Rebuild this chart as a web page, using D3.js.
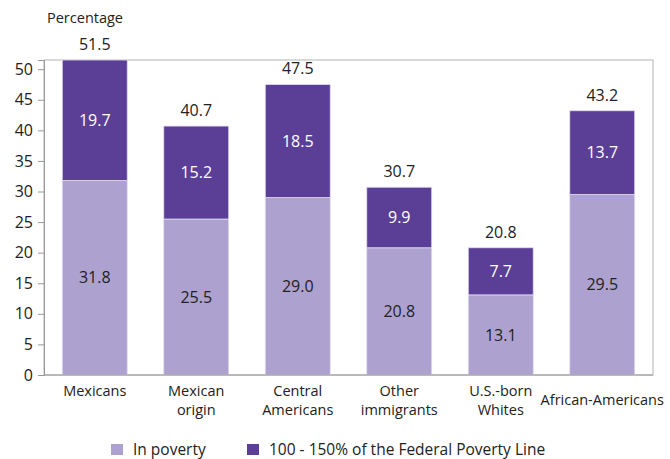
<!DOCTYPE html>
<html>
<head>
<meta charset="utf-8">
<script src="https://cdn.jsdelivr.net/npm/d3@7"></script>
<style>
  body { margin: 0; background: #fff; }
  svg { display: block; font-family: "Open Sans", sans-serif; }
</style>
</head>
<body>
<svg width="670" height="459"></svg>
<script>
// categories (lines of each label)
var categories = ["Mexicans", "Mexican origin", "Central Americans", "Other immigrants", "U.S.-born Whites", "African-Americans"]
var labelLines = [["Mexicans"], ["Mexican", "origin"], ["Central", "Americans"], ["Other", "immigrants"], ["U.S.-born", "Whites"], ["African-Americans"]]
var inPoverty = [31.8, 25.5, 29.0, 20.8, 13.1, 29.5]
var nearPoverty = [19.7, 15.2, 18.5, 9.9, 7.7, 13.7]
var totals = [51.5, 40.7, 47.5, 30.7, 20.8, 43.2]
var yTicks = [0, 5, 10, 15, 20, 25, 30, 35, 40, 45, 50]
var seriesNames = ["In poverty", "100 - 150% of the Federal Poverty Line"]
var colors = ["#ada1cf", "#5b3f97"]

var svg = d3.select("svg"),
    margin = {top: 60, right: 17, bottom: 84, left: 44},
    width = +svg.attr("width") - margin.left - margin.right,
    height = +svg.attr("height") - margin.top - margin.bottom

var g = svg.append("g").attr("transform", "translate(" + margin.left + "," + margin.top + ")")

var x = d3.scaleBand().domain(categories).range([0, width]).paddingInner(0.36).paddingOuter(0.18)
var y = d3.scaleLinear().domain([0, 51.5]).range([height, 0])

// plot frame
g.append("rect")
    .attr("width", width).attr("height", height)
    .attr("fill", "none").attr("stroke", "#b3b3b3")

// stacked data
var rows = categories.map(function(c, i) { return {cat: c, a: inPoverty[i], b: nearPoverty[i], total: totals[i]} })
var stack = d3.stack().keys(["a", "b"])(rows)

var layer = g.selectAll(".layer")
  .data(stack)
  .enter().append("g")
    .attr("fill", function(d, i) { return colors[i] })

layer.selectAll("rect")
  .data(function(d) { return d })
  .enter().append("rect")
    .attr("x", function(d) { return x(d.data.cat) })
    .attr("y", function(d) { return y(d[1]) })
    .attr("width", x.bandwidth())
    .attr("height", function(d) { return y(d[0]) - y(d[1]) })
    .attr("stroke", "#e2dcf0").attr("stroke-width", 0.8)

// values inside segments
layer.selectAll("text")
  .data(function(d, i) { return d.map(function(p) { return {p: p, i: i} }) })
  .enter().append("text")
    .attr("x", function(d) { return x(d.p.data.cat) + x.bandwidth() / 2 })
    .attr("y", function(d) { return (y(d.p[0]) + y(d.p[1])) / 2 })
    .attr("dy", "0.35em")
    .attr("text-anchor", "middle")
    .attr("font-size", 16)
    .attr("fill", function(d) { return d.i === 0 ? "#222" : "#fff" })
    .text(function(d) { return d3.format(".1f")(d.p[1] - d.p[0]) })

// totals on top
g.selectAll(".total")
  .data(rows)
  .enter().append("text")
    .attr("class", "total")
    .attr("x", function(d) { return x(d.cat) + x.bandwidth() / 2 })
    .attr("y", function(d) { return y(d.total) - 10 })
    .attr("text-anchor", "middle")
    .attr("font-size", 16)
    .attr("fill", "#222")
    .text(function(d) { return d3.format(".1f")(d.total) })

// y axis
var yAxis = g.append("g")
    .call(d3.axisLeft(y).tickValues(yTicks).tickSize(6).tickPadding(5))
yAxis.select(".domain").attr("stroke", "#999")
yAxis.selectAll(".tick line").attr("stroke", "#999")
yAxis.selectAll("text").attr("font-size", 16).attr("fill", "#222").attr("font-family", "Open Sans, sans-serif")

// x axis baseline
g.append("line")
    .attr("x1", 0).attr("x2", width).attr("y1", height).attr("y2", height)
    .attr("stroke", "#999")

// category labels
var catLabel = g.selectAll(".cat")
  .data(categories)
  .enter().append("text")
    .attr("class", "cat")
    .attr("text-anchor", "middle")
    .attr("font-size", 14.5)
    .attr("fill", "#222")
    .attr("transform", function(d, i) {
      var n = labelLines[i].length
      return "translate(" + (x(d) + x.bandwidth() / 2) + "," + (height + (n === 1 && i > 0 ? 30 : 21)) + ")"
    })
catLabel.selectAll("tspan")
  .data(function(d, i) { return labelLines[i] })
  .enter().append("tspan")
    .attr("x", 0)
    .attr("dy", function(d, i) { return i === 0 ? 0 : 19 })
    .text(function(d) { return d })

// axis title
svg.append("text")
    .attr("x", 47).attr("y", 23)
    .attr("font-size", 14.5)
    .attr("fill", "#222")
    .text("Percentage")

// legend
var legendX = [111, 247]
var legend = svg.selectAll(".legend")
  .data(seriesNames)
  .enter().append("g")
    .attr("class", "legend")
    .attr("transform", function(d, i) { return "translate(" + legendX[i] + ",444)" })
legend.append("rect")
    .attr("width", 12).attr("height", 11)
    .attr("fill", function(d, i) { return colors[i] })
legend.append("text")
    .attr("x", 22).attr("y", 11)
    .attr("font-size", 15.5)
    .attr("fill", "#222")
    .text(function(d) { return d })
</script>
</body>
</html>
